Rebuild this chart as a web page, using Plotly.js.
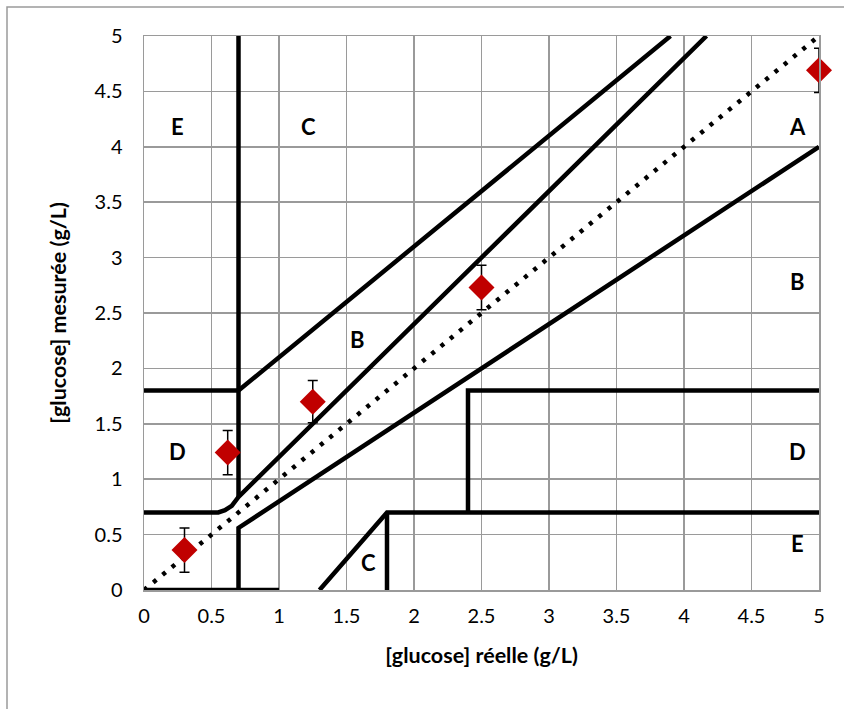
<!DOCTYPE html>
<html>
<head>
<meta charset="utf-8">
<script src="https://cdn.plot.ly/plotly-3.0.1.min.js"></script>
<style>html,body{margin:0;padding:0;background:#fff;}#chart{width:844px;height:709px;}</style>
</head>
<body>
<div id="chart"></div>
<script>
// Measured points
const measX = [0.3, 0.62, 1.25, 2.5, 5];
const measY = [0.36, 1.24, 1.70, 2.73, 4.69];
const measErr = [0.2, 0.2, 0.19, 0.2, 0.2];

// Identity line
const diagX = [0, 5];
const diagY = [0, 5];

// Clarke grid zone boundaries (g/L)
const aUpperX = [0, 0.55, 0.6, 0.65, 0.7, 4.1667];
const aUpperY = [0.7, 0.7, 0.72, 0.76, 0.84, 5];
const aLowerX = [0.7, 0.7, 5];
const aLowerY = [0, 0.56, 4];
const vertTopX = [0.7, 0.7];
const vertTopY = [0.84, 5];
const bUpperX = [0, 0.7, 3.9];
const bUpperY = [1.8, 1.8, 5];
const baseX = [0, 1];
const baseY = [0, 0];
const cLowerX = [1.3, 1.8, 5];
const cLowerY = [0, 0.7, 0.7];
const cVertX = [1.8, 1.8];
const cVertY = [0, 0.7];
const dRightX = [2.4, 2.4, 5];
const dRightY = [0.7, 1.8, 1.8];

// Zone labels
const zoneText = ['E', 'C', 'A', 'B', 'B', 'D', 'D', 'E', 'C'];
const zoneX = [0.25, 1.22, 4.84, 1.58, 4.84, 0.25, 4.84, 4.84, 1.66];
const zoneY = [4.18, 4.18, 4.18, 2.26, 2.78, 1.25, 1.25, 0.42, 0.25];

const FONT = 'Lato, "Open Sans", sans-serif';

function seg(x, y) {
  return {x: x, y: y, type: 'scatter', mode: 'lines', hoverinfo: 'skip',
    line: {color: '#000', width: 4.5}, showlegend: false, cliponaxis: false};
}

const traces = [
  seg(aUpperX, aUpperY), seg(aLowerX, aLowerY), seg(vertTopX, vertTopY),
  seg(bUpperX, bUpperY), seg(baseX, baseY), seg(cLowerX, cLowerY),
  seg(cVertX, cVertY), seg(dRightX, dRightY),
  {x: diagX, y: diagY, type: 'scatter', mode: 'lines', showlegend: false,
   line: {color: '#000', width: 4.5, dash: '4px,8px'}, cliponaxis: false},
  {x: measX, y: measY, type: 'scatter', mode: 'markers', showlegend: false,
   cliponaxis: false,
   marker: {symbol: 'diamond', size: 20, color: '#C00000'},
   error_y: {type: 'data', array: measErr, visible: true, color: '#000', thickness: 1.5, width: 5}}
];

const annotations = zoneText.map((t, i) => ({
  x: zoneX[i], y: zoneY[i], xref: 'x', yref: 'y', text: '<b>' + t + '</b>',
  showarrow: false, font: {family: FONT, size: 22, color: '#000'}
}));

const layout = {
  width: 844, height: 709,
  margin: {l: 144, r: 25, t: 36, b: 119},
  paper_bgcolor: '#fff', plot_bgcolor: '#fff',
  font: {family: FONT, size: 20, color: '#000'},
  xaxis: {range: [0, 5], dtick: 0.5, tick0: 0, showgrid: true, gridcolor: '#9a9a9a', gridwidth: 1.5,
    zeroline: false, showline: true, linecolor: '#9a9a9a', linewidth: 1.5, mirror: true,
    ticks: '', ticklabelstandoff: 7,
    title: {text: '<b>[glucose] réelle (g/L)</b>', font: {family: FONT, size: 21.5}, standoff: 22}},
  yaxis: {range: [0, 5], dtick: 0.5, tick0: 0, showgrid: true, gridcolor: '#9a9a9a', gridwidth: 1.5,
    zeroline: false, showline: true, linecolor: '#9a9a9a', linewidth: 1.5, mirror: true,
    ticks: '', ticklabelstandoff: 16,
    title: {text: '<b>[glucose] mesurée (g/L)</b>', font: {family: FONT, size: 21.5}, standoff: 22}},
  annotations: annotations,
  shapes: [{type: 'rect', xref: 'paper', yref: 'paper',
    x0: (7 - 144) / 675, x1: (1000 - 144) / 675, y0: (590 - 800) / 554, y1: (590 - 7) / 554,
    line: {color: '#9a9a9a', width: 1.5}, fillcolor: 'rgba(0,0,0,0)', layer: 'below'}]
};

Plotly.newPlot('chart', traces, layout, {displayModeBar: false, staticPlot: true});
</script>
</body>
</html>
